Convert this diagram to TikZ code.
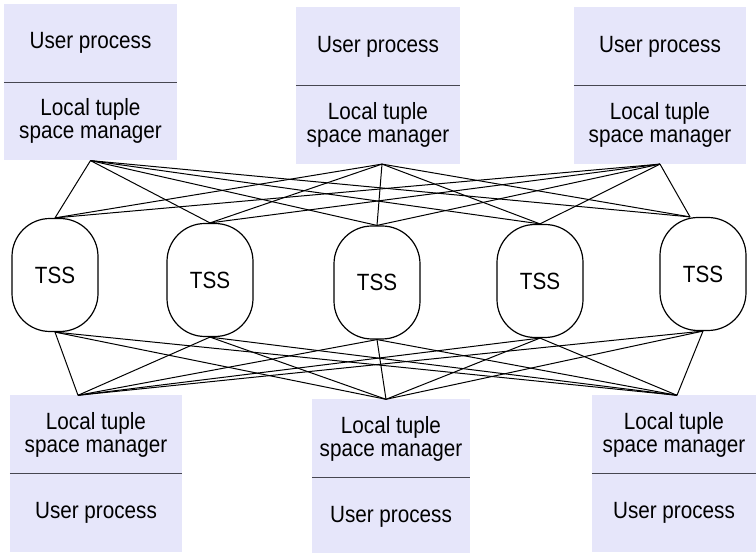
\documentclass[tikz,border=0pt]{standalone}
\usepackage{fontspec}
\setmainfont{Liberation Sans}[FakeStretch=0.88]
\usepackage{tikz}
\usetikzlibrary{positioning, calc}
\definecolor{boxfill}{RGB}{230, 230, 250}
\definecolor{rulegray}{RGB}{70, 70, 80}
\newcommand{\procfont}{\fontsize{23.5pt}{23pt}\selectfont}

\begin{document}
\begin{tikzpicture}[x=1pt, y=-1pt,
            part/.style={fill=boxfill, minimum height=78pt, inner sep=0pt, align=center, font=\procfont},
            tss/.style={draw, line width=1.2pt, rounded corners=38pt, minimum width=86pt, minimum height=113pt, font=\procfont},
            link/.style={line width=1pt},
            divider/.style={draw=rulegray, line width=1.3pt}]
          \useasboundingbox (0,0) rectangle (756,553);
          % upper processes
          \node[part, minimum width=173pt] (tl1) at (90.5,43) {User process};
          \node[part, minimum width=173pt, below=0pt of tl1] (tl2) {Local tuple\\space manager};
          \node[part, minimum width=164pt] (tm1) at (378,46.5) {User process};
          \node[part, minimum width=164pt, below=0pt of tm1] (tm2) {Local tuple\\space manager};
          \node[part, minimum width=172pt] (tr1) at (660,46.5) {User process};
          \node[part, minimum width=172pt, below=0pt of tr1] (tr2) {Local tuple\\space manager};
          % lower processes
          \node[part, minimum width=172pt] (bl1) at (96,434.5) {Local tuple\\space manager};
          \node[part, minimum width=172pt, below=0pt of bl1] (bl2) {User process};
          \node[part, minimum width=158pt] (bm1) at (391,438.5) {Local tuple\\space manager};
          \node[part, minimum width=158pt, below=0pt of bm1] (bm2) {User process};
          \node[part, minimum width=164pt] (br1) at (674,434.5) {Local tuple\\space manager};
          \node[part, minimum width=164pt, below=0pt of br1] (br2) {User process};
          \foreach \b in {tl1,tm1,tr1,bl1,bm1,br1}
            \draw[divider] (\b.south west) -- (\b.south east);
          % tuple space servers
          \node[tss] (tss1) at (55,275) {TSS};
          \node[tss] (tss2) at (210,280) {TSS};
          \node[tss] (tss3) at (377,282.5) {TSS};
          \node[tss] (tss4) at (540,281) {TSS};
          \node[tss] (tss5) at (703,274) {TSS};
          % attachment points
          \coordinate (tl-pin) at (tl2.south);
          \coordinate (tm-pin) at ([xshift=4pt]tm2.south);
          \coordinate (tr-pin) at (tr2.south);
          \coordinate (bl-pin) at ([xshift=-18pt]bl1.north);
          \coordinate (bm-pin) at ([xshift=-5pt]bm1.north);
          \coordinate (br-pin) at ([xshift=3pt]br1.north);
          \foreach \t in {1,...,4} {
            \coordinate (tss\t-top) at (tss\t.north);
            \coordinate (tss\t-bot) at (tss\t.south);
          }
          \coordinate (tss5-top) at ([xshift=-13pt]tss5.north);
          \coordinate (tss5-bot) at (tss5.south);
          % full mesh
          \foreach \u in {tl,tm,tr}
            \foreach \t in {1,...,5}
              \draw[link] (\u-pin) -- (tss\t-top);
          \foreach \t in {1,...,5}
            \foreach \d in {bl,bm,br}
              \draw[link] (tss\t-bot) -- (\d-pin);
        \end{tikzpicture}
\end{document}
